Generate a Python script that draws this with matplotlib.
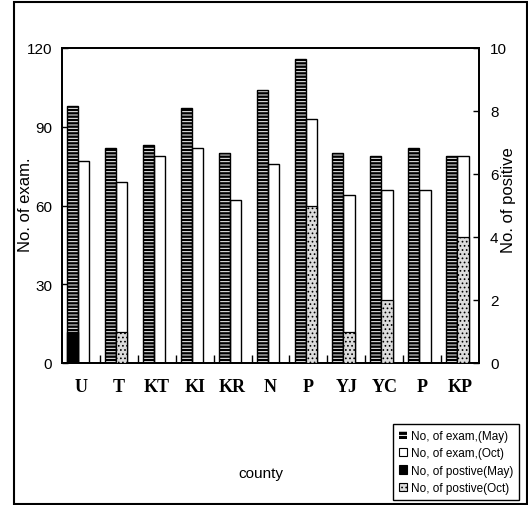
import matplotlib
matplotlib.use("Agg")
import matplotlib.pyplot as plt
from matplotlib.patches import Rectangle, Patch
import numpy as np

counties = ["U", "T", "KT", "KI", "KR", "N", "P", "YJ", "YC", "P", "KP"]
exam_may = [98, 82, 83, 97, 80, 104, 116, 80, 79, 82, 79]
exam_oct = [77, 69, 79, 82, 62, 76, 93, 64, 66, 66, 79]
pos_may = [1, 0, 0, 0, 0, 0, 0, 0, 0, 0, 0]
pos_oct = [0, 1, 0, 0, 0, 0, 5, 1, 2, 0, 4]
left_ticks = [0, 30, 60, 90, 120]
right_ticks = [0, 2, 4, 6, 8, 10]
legend_labels = ["No, of exam,(May)", "No, of exam,(Oct)",
                 "No, of postive(May)", "No, of postive(Oct)"]

NARROW = ["Liberation Sans Narrow", "Liberation Sans", "DejaVu Sans"]
plt.rcParams["hatch.linewidth"] = 0.7

fig = plt.figure(figsize=(5.28, 5.06), dpi=100)
ax = fig.add_axes([62 / 528, 1 - 364 / 506, (479 - 62) / 528, (364 - 49) / 506])
ax2 = ax.twinx()

x = np.arange(len(counties))
off_may, w_may = -0.22, 0.29
off_oct, w_oct = 0.075, 0.30

# May exam: black bars with white horizontal stripes
ax.bar(x + off_may, exam_may, w_may, color="black", edgecolor="white",
       hatch="-----", linewidth=0, zorder=2)
ax.bar(x + off_may, exam_may, w_may, facecolor="none", edgecolor="black",
       linewidth=1.0, zorder=3)
# Oct exam: white bars
ax.bar(x + off_oct, exam_oct, w_oct, color="white", edgecolor="black",
       linewidth=1.0, zorder=2)

# positives on the right axis
ax2.bar(x + off_may, pos_may, w_may, color="black", edgecolor="black",
        linewidth=1.0, zorder=3)
ax2.bar(x + off_oct, pos_oct, w_oct, color="#dcdcdc", edgecolor="black",
        hatch="....", linewidth=0.9, zorder=3)

ax.set_xlim(-0.5, len(counties) - 0.5)
ax.set_ylim(0, 120)
ax2.set_ylim(0, 10)

ax.set_yticks(left_ticks)
ax.set_yticklabels([str(t) for t in left_ticks], family=NARROW, fontsize=11)
ax2.set_yticks(right_ticks)
ax2.set_yticklabels([str(t) for t in right_ticks], family=NARROW, fontsize=11)
ax.tick_params(axis="y", direction="in", length=4, width=1, pad=7)
ax2.tick_params(axis="y", direction="in", length=4, width=1, pad=8)

ax.set_xticks(x)
ax.set_xticklabels(counties, family=["Liberation Serif", "DejaVu Serif"],
                   fontweight="bold", fontsize=13)
ax.tick_params(axis="x", which="major", length=0, pad=11)
ax.set_xticks(np.arange(len(counties) - 1) + 0.5, minor=True)
ax.tick_params(axis="x", which="minor", direction="in", length=6, width=1)

for a in (ax, ax2):
    for s in a.spines.values():
        s.set_linewidth(1.3)
        s.set_color("black")

fig.text(26 / 528, 1 - 205 / 506, "No. of exam.", rotation=90, ha="center",
         va="center", fontsize=12, family=["Liberation Sans", "DejaVu Sans"])
fig.text(509 / 528, 1 - 200 / 506, "No. of positive", rotation=90, ha="center",
         va="center", fontsize=12, family=["Liberation Sans", "DejaVu Sans"])
fig.text(261 / 528, 1 - 474 / 506, "county", ha="center", va="center",
         fontsize=11, family=NARROW)

handles = [
    Patch(facecolor="black", edgecolor="white", hatch="----", linewidth=0),
    Patch(facecolor="white", edgecolor="black", linewidth=0.8),
    Patch(facecolor="black", edgecolor="black", linewidth=0.8),
    Patch(facecolor="#dcdcdc", edgecolor="black", hatch="....", linewidth=0.8),
]
leg = fig.legend(handles, legend_labels, loc="upper right",
                 bbox_to_anchor=(519 / 528, 1 - 425 / 506), borderaxespad=0,
                 prop={"family": NARROW, "size": 8.5},
                 handlelength=0.7, handleheight=0.7, handletextpad=0.3,
                 labelspacing=0.45, borderpad=0.5, fancybox=False,
                 edgecolor="black", framealpha=1)
leg.get_frame().set_linewidth(1.0)

# outer frame
fig.add_artist(Rectangle((14 / 528, 1 / 506), (527 - 14) / 528, (503 - 1) / 506,
                         transform=fig.transFigure, fill=False,
                         edgecolor="black", linewidth=1.5))

fig.savefig("out.png", dpi=100)
